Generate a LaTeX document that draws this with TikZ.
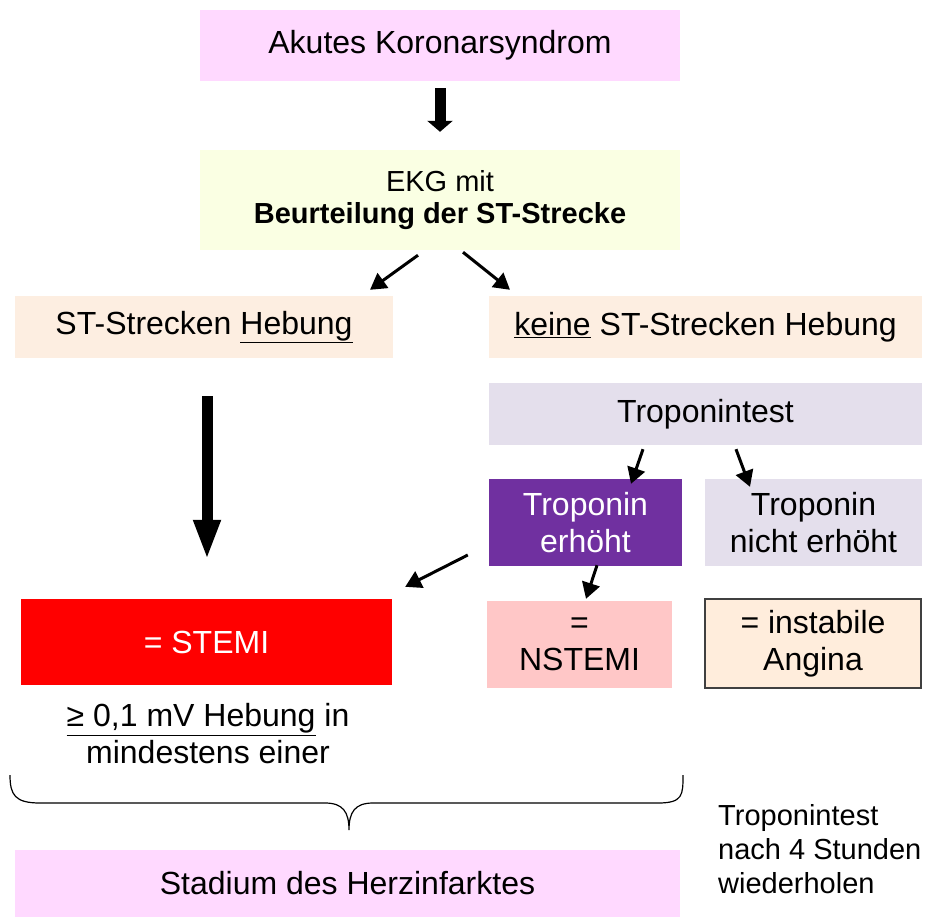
\documentclass[tikz,border=0pt]{standalone}
\usepackage{fontspec}
\setmainfont{Liberation Sans}
\usetikzlibrary{arrows.meta}

\definecolor{pinkbox}{RGB}{255,217,255}
\definecolor{ekgbox}{RGB}{250,255,227}
\definecolor{peachbox}{RGB}{253,238,225}
\definecolor{lavbox}{RGB}{228,223,236}
\definecolor{purplebox}{RGB}{112,48,160}
\definecolor{nstemibox}{RGB}{255,199,199}
\definecolor{anginabox}{RGB}{255,237,220}

\newcommand{\lblfont}{\fontsize{32}{37}\selectfont}
\newcommand{\ekgfont}{\fontsize{29}{32}\selectfont}
\newcommand{\notefont}{\fontsize{29}{34}\selectfont}

\begin{document}
\begin{tikzpicture}[x=1pt,y=-1pt,
  box/.style={inner sep=0pt,align=center,font=\lblfont},
  thinarrow/.style={line width=3pt,-{Triangle[length=16pt,width=18pt]}},
  blockarrow/.style={line width=11pt,-{Triangle[length=#1,width=25pt]}},
  blockarrow/.default=11pt]
\useasboundingbox (0,0) rectangle (926,918);
%%
  % Node: Akutes Koronarsyndrom
  \node[box,fill=pinkbox,minimum width=480pt,minimum height=71pt] (aks) at (440,45.5) {\raisebox{-2pt}{Akutes Koronarsyndrom}};
  % Node: EKG
  \node[box,fill=ekgbox,minimum width=480pt,minimum height=100pt,font=\ekgfont] (ekg) at (440,200) {EKG mit\\\textbf{Beurteilung der ST-Strecke}};
  % Node: ST Hebung
  \node[box,fill=peachbox,minimum width=378pt,minimum height=62pt] (sthe) at (204,327) {ST-Strecken \underline{Hebung}};
  % Node: keine ST Hebung
  \node[box,fill=peachbox,minimum width=433pt,minimum height=62pt] (nosthe) at (705.5,327) {\underline{keine} ST-Strecken Hebung};
  % Node: Troponintest
  \node[box,fill=lavbox,minimum width=433pt,minimum height=62pt] (tt) at (705.5,414) {Troponintest};
  % Node: Troponin erhoeht
  \node[box,fill=purplebox,text=white,minimum width=193pt,minimum height=87pt] (terh) at (585.5,522.5) {Troponin\\erhöht};
  % Node: Troponin nicht erhoeht
  \node[box,fill=lavbox,minimum width=217pt,minimum height=87pt] (tnerh) at (813.5,522.5) {Troponin\\nicht erhöht};
  % Node: STEMI
  \node[box,fill=red,text=white,minimum width=371pt,minimum height=86pt] (stemi) at (206.5,642) {\raisebox{-2pt}{= STEMI}};
  % Node: NSTEMI
  \node[box,fill=nstemibox,minimum width=185pt,minimum height=87pt] (nstemi) at (579.5,644.5) {=\\NSTEMI};
  % Node: instabile Angina
  \node[box,fill=anginabox,draw=black!75,line width=1.5pt,minimum width=216pt,minimum height=89pt] (angina) at (813,643.5) {= instabile\\Angina};
  % Node: Hebung text
  \node[box] (hebtxt) at (208,734) {\underline{≥ 0,1 mV Hebung} in\\mindestens einer};
  % Node: Stadium
  \node[box,fill=pinkbox,minimum width=665pt,minimum height=67pt] (stadium) at (347.5,883.5) {\raisebox{-2pt}{Stadium des Herzinfarktes}};
  % Node: note
  \node[box,anchor=west,align=left,font=\notefont] (note) at (718,849) {Troponintest\\nach 4 Stunden\\wiederholen};
  % Edge: aks -> ekg
  \draw[blockarrow] ([shift={(0,7)}]aks.south) -- ([shift={(0,-18)}]ekg.north);
  % Edge: ekg -> sthe
  \draw[thinarrow] ([shift={(-22,5)}]ekg.south) -- ([shift={(166,-6)}]sthe.north);
  % Edge: ekg -> nosthe
  \draw[thinarrow] ([shift={(23,2)}]ekg.south) -- ([shift={(-195.5,-6)}]nosthe.north);
  % Edge: sthe -> stemi
  \draw[blockarrow=40pt] ([shift={(3,38)}]sthe.south) -- ([shift={(0.5,-39)}]stemi.north);
  % Edge: tt -> terh
  \draw[thinarrow] ([shift={(-62.5,4)}]tt.south) -- ([shift={(45.5,5)}]terh.north);
  % Edge: tt -> tnerh
  \draw[thinarrow] ([shift={(30.5,4)}]tt.south) -- ([shift={(-63.5,8)}]tnerh.north);
  % Edge: terh -> stemi
  \draw[thinarrow] ([shift={(-21,32.5)}]terh.west) -- ([shift={(13,-12)}]stemi.north east);
  % Edge: terh -> nstemi
  \draw[thinarrow] ([shift={(11.5,-1)}]terh.south) -- ([shift={(6.5,-2)}]nstemi.north);
  % Brace
  \draw[line width=1.2pt] (10,775) .. controls (10,795) and (15,803) .. (40,803) -- (325,803)
    .. controls (343,803) and (349,812) .. (349,830)
    .. controls (349,812) and (355,803) .. (373,803) -- (658,803)
    .. controls (683,803) and (683,795) .. (683,775);
%
\end{tikzpicture}
\end{document}
